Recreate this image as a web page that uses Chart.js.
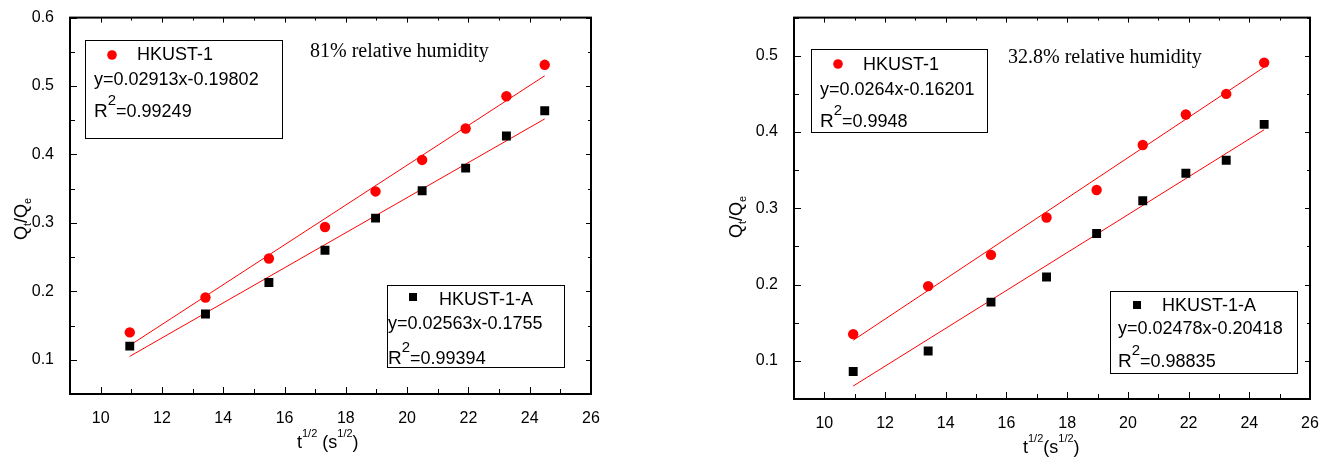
<!DOCTYPE html>
<html>
<head>
<meta charset="utf-8">
<script src="https://cdn.jsdelivr.net/npm/chart.js@4.4.1/dist/chart.umd.min.js"></script>
<style>
  html, body { margin: 0; padding: 0; background: #fff; }
  #wrap { position: relative; width: 1334px; height: 460px; }
  canvas { position: absolute; top: 0; }
</style>
</head>
<body>
<div id="wrap">
  <canvas id="chartHigh" width="667" height="460" style="left:0"></canvas>
  <canvas id="chartLow" width="667" height="460" style="left:667px"></canvas>
</div>
<script>
// t^1/2 values (same sampling times for both plots)
const sqrtT = [10.95, 13.42, 15.49, 17.32, 18.97, 20.49, 21.91, 23.24, 24.49];
const seriesNames = ["HKUST-1", "HKUST-1-A"];

// 81% relative humidity
const rh81Hkust = [0.140, 0.191, 0.248, 0.294, 0.346, 0.392, 0.438, 0.485, 0.531];
const rh81HkustA = [0.120, 0.167, 0.213, 0.260, 0.307, 0.347, 0.380, 0.427, 0.464];
const rh81FitX = [10.95, 24.49];
const rh81FitHkust = [0.121, 0.515];
const rh81FitHkustA = [0.105, 0.452];
const rh81Eq = ["y=0.02913x-0.19802", "y=0.02563x-0.1755"];
const rh81R2 = ["=0.99249", "=0.99394"];

// 32.8% relative humidity
const rh33Hkust = [0.135, 0.198, 0.239, 0.288, 0.324, 0.383, 0.423, 0.450, 0.491];
const rh33HkustA = [0.086, 0.113, 0.177, 0.210, 0.267, 0.310, 0.346, 0.363, 0.410];
const rh33FitX = [10.95, 24.49];
const rh33FitHkust = [0.127, 0.485];
const rh33FitHkustA = [0.067, 0.403];
const rh33Eq = ["y=0.0264x-0.16201", "y=0.02478x-0.20418"];
const rh33R2 = ["=0.9948", "=0.98835"];

const SANS = "'Liberation Sans', Arial, sans-serif";
const SERIF = "'Liberation Serif', 'Times New Roman', serif";

const pts = (xs, ys) => xs.map((x, i) => ({ x: x, y: ys[i] }));
const isTenth = v => Math.abs(v * 10 - Math.round(v * 10)) < 1e-6;

// draw a row of text pieces with own size / vertical shift
function drawRuns(ctx, x, y, runs) {
  runs.forEach(r => {
    ctx.font = r.size + "px " + (r.family || SANS);
    ctx.fillText(r.text, x, y + (r.dy || 0));
    x += ctx.measureText(r.text).width;
  });
}

function drawLegendBox(ctx, b, name, eq, r2, marker) {
  ctx.lineWidth = 1;
  ctx.strokeStyle = "#000";
  ctx.strokeRect(b.x + 0.5, b.y + 0.5, b.w, b.h);
  ctx.fillStyle = marker === "circle" ? "red" : "#000";
  if (marker === "circle") {
    ctx.beginPath();
    ctx.arc(b.mx, b.my, 4.8, 0, Math.PI * 2);
    ctx.fill();
  } else {
    ctx.fillRect(b.mx - 4, b.my - 4, 8, 8);
  }
  ctx.fillStyle = "#000";
  ctx.textBaseline = "alphabetic";
  ctx.textAlign = "left";
  drawRuns(ctx, b.nx, b.ny, [{ text: name, size: 18 }]);
  drawRuns(ctx, b.tx, b.ey, [{ text: eq, size: 18 }]);
  drawRuns(ctx, b.tx, b.ry, [
    { text: "R", size: 19 },
    { text: "2", size: 15, dy: -12 },
    { text: r2, size: 18 }
  ]);
}

function makeFigure(id, cfg) {
  const deco = {
    id: "deco",
    afterDraw(chart) {
      const { ctx, chartArea: a, scales: { x, y } } = chart;
      ctx.save();
      // inward ticks on all four sides
      ctx.strokeStyle = "#000";
      ctx.lineWidth = 1;
      ctx.beginPath();
      x.ticks.forEach(t => {
        const px = Math.round(x.getPixelForValue(t.value)) + 0.5;
        const len = t.value % 2 === 0 ? 7 : 5;
        ctx.moveTo(px, a.bottom); ctx.lineTo(px, a.bottom - len);
        ctx.moveTo(px, a.top); ctx.lineTo(px, a.top + len - 2);
      });
      y.ticks.forEach(t => {
        const py = Math.round(y.getPixelForValue(t.value)) + 0.5;
        const len = isTenth(t.value) ? 7 : 5;
        ctx.moveTo(a.left, py); ctx.lineTo(a.left + len, py);
        ctx.moveTo(a.right, py); ctx.lineTo(a.right - len + 2, py);
      });
      ctx.stroke();
      ctx.lineWidth = 2;
      ctx.strokeRect(a.left, a.top, a.right - a.left, a.bottom - a.top);

      // legends
      drawLegendBox(ctx, cfg.box1, seriesNames[0], cfg.eq[0], cfg.r2[0], "circle");
      drawLegendBox(ctx, cfg.box2, seriesNames[1], cfg.eq[1], cfg.r2[1], "rect");

      // humidity note
      ctx.fillStyle = "#000";
      ctx.textBaseline = "alphabetic";
      drawRuns(ctx, cfg.note.x, cfg.note.y, [{ text: cfg.note.text, size: 20, family: SERIF }]);

      // x title
      const xr = [
        { text: "t", size: 18 },
        { text: "1/2", size: 11, dy: -11 },
        { text: cfg.xGap + "(s", size: 18 },
        { text: "1/2", size: 11, dy: -11 },
        { text: ")", size: 18 }
      ];
      drawRuns(ctx, cfg.xt.x, cfg.xt.y, xr);

      // y title, rotated
      ctx.translate(cfg.yt.x, cfg.yt.y);
      ctx.rotate(-Math.PI / 2);
      drawRuns(ctx, -22, 0, [
        { text: "Q", size: 18 },
        { text: "t", size: 11, dy: 4 },
        { text: "/Q", size: 18 },
        { text: "e", size: 11, dy: 4 }
      ]);
      ctx.restore();
    }
  };

  return new Chart(document.getElementById(id), {
    type: "scatter",
    data: {
      datasets: [
        { data: pts(sqrtT, cfg.red), pointStyle: "circle", pointRadius: 5.2,
          backgroundColor: "red", borderWidth: 0 },
        { data: pts(sqrtT, cfg.black), pointStyle: "rect", pointRadius: 6.3,
          backgroundColor: "#000", borderWidth: 0 },
        { data: pts(cfg.fitX, cfg.fitRed), showLine: true, pointRadius: 0,
          borderColor: "red", borderWidth: 1 },
        { data: pts(cfg.fitX, cfg.fitBlack), showLine: true, pointRadius: 0,
          borderColor: "red", borderWidth: 1 }
      ]
    },
    options: {
      responsive: false,
      animation: false,
      devicePixelRatio: 1,
      events: [],
      layout: { padding: cfg.padding },
      plugins: { legend: { display: false }, tooltip: { enabled: false } },
      scales: {
        x: {
          type: "linear", min: 9, max: 26,
          afterFit: s => { s.height = 40; },
          grid: { display: false }, border: { display: false },
          ticks: {
            stepSize: 1, maxTicksLimit: 100, autoSkip: false, maxRotation: 0,
            padding: 7, color: "#000", font: { family: SANS, size: 16 },
            callback: v => (v % 2 === 0 ? String(v) : "")
          }
        },
        y: {
          type: "linear", min: 0.05, max: cfg.yMax,
          afterFit: s => { s.width = 50; },
          grid: { display: false }, border: { display: false },
          ticks: {
            stepSize: 0.05, maxTicksLimit: 100, autoSkip: false,
            padding: 8, color: "#000", font: { family: SANS, size: 16 },
            callback: v => (isTenth(v) ? v.toFixed(1) : "")
          }
        }
      }
    },
    plugins: [deco]
  });
}

makeFigure("chartHigh", {
  red: rh81Hkust, black: rh81HkustA,
  fitX: rh81FitX, fitRed: rh81FitHkust, fitBlack: rh81FitHkustA,
  eq: rh81Eq, r2: rh81R2, yMax: 0.6,
  padding: { left: 20, right: 76, top: 16, bottom: 26 },
  box1: { x: 85, y: 40, w: 197, h: 98, mx: 112, my: 55, nx: 137, ny: 60, tx: 94, ey: 85, ry: 117 },
  box2: { x: 387, y: 285, w: 177, h: 82, mx: 413, my: 297, nx: 439, ny: 305, tx: 388, ey: 329, ry: 364 },
  note: { text: "81% relative humidity", x: 310, y: 57 },
  xt: { x: 297, y: 448 }, xGap: " ",
  yt: { x: 27, y: 218 }
});

makeFigure("chartLow", {
  red: rh33Hkust, black: rh33HkustA,
  fitX: rh33FitX, fitRed: rh33FitHkust, fitBlack: rh33FitHkustA,
  eq: rh33Eq, r2: rh33R2, yMax: 0.55,
  padding: { left: 77, right: 24, top: 16, bottom: 21 },
  box1: { x: 144, y: 49, w: 176, h: 83, mx: 171, my: 64, nx: 196, ny: 70, tx: 153, ey: 95, ry: 127 },
  box2: { x: 443, y: 291, w: 187, h: 82, mx: 470, my: 305, nx: 495, ny: 311, tx: 451, ey: 334, ry: 367 },
  note: { text: "32.8% relative humidity", x: 341, y: 63 },
  xt: { x: 356, y: 453 }, xGap: "",
  yt: { x: 75, y: 216 }
});
</script>
</body>
</html>
